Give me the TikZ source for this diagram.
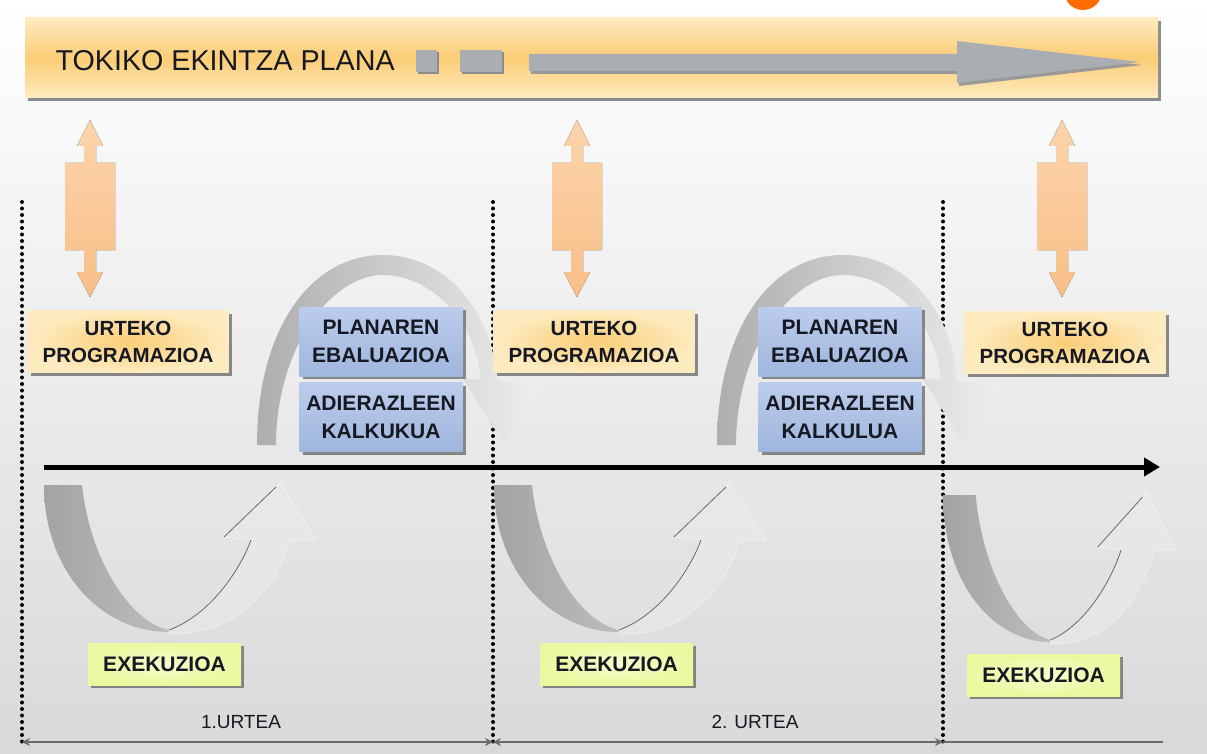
\documentclass[tikz,border=0pt]{standalone}
\usepackage{fontspec}
\setmainfont{Liberation Sans}
\usetikzlibrary{shadows,arrows.meta}

\definecolor{bandorange}{RGB}{251,205,118}
\definecolor{bandpale}{RGB}{253,235,192}
\definecolor{peach}{RGB}{249,190,135}
\definecolor{peachlight}{RGB}{252,212,172}
\definecolor{evalblue}{RGB}{160,182,222}
\definecolor{evalbluelight}{RGB}{188,204,236}
\definecolor{exeyellow}{RGB}{234,249,160}
\definecolor{exepale}{RGB}{246,253,205}
\definecolor{planarrow}{RGB}{170,174,179}
\definecolor{textdark}{RGB}{22,24,34}

\begin{document}
\begin{tikzpicture}[x=1pt,y=-1pt,
  boxshadow/.style={drop shadow={shadow xshift=3pt,shadow yshift=-3pt,fill=black!60,opacity=0.75}},
  urtbox/.style={boxshadow,inner color=bandorange,outer color=bandpale,minimum width=201pt,minimum height=62pt,
    align=center,inner sep=0pt,font=\bfseries\fontsize{20.5}{27}\selectfont,text=textdark},
  evalbox/.style={boxshadow,top color=evalbluelight,bottom color=evalblue,minimum width=163pt,minimum height=69pt,
    align=center,inner sep=0pt,font=\bfseries\fontsize{21}{28}\selectfont,text=textdark},
  exebox/.style={boxshadow,inner color=exepale,outer color=exeyellow,minimum width=153pt,minimum height=42pt,
    inner sep=0pt,font=\bfseries\fontsize{21}{24}\selectfont,text=textdark},
  yeardots/.style={line width=4pt,line cap=round,dash pattern=on 0pt off 6.5pt},
  axisline/.style={line width=2.4pt,black!58,{Stealth[length=8pt,width=8pt]}-{Stealth[length=8pt,width=8pt]}},
  yearlabel/.style={font=\fontsize{19}{22}\selectfont,text=textdark}]
  \useasboundingbox (0,0) rectangle (1207,754);
  \shade[top color=white,bottom color=black!15] (0,0) rectangle (1207,754);
  \fill[orange!85!red] (1083,-9) circle (19);
  % plan banner
  \node[boxshadow,top color=bandpale,bottom color=bandpale,middle color=bandorange,
    minimum width=1133pt,minimum height=80pt,inner sep=0pt] (plan) at (591.5,58) {};
  \node[anchor=west,font=\fontsize{28.7}{30}\selectfont,text=textdark] (title) at (52,61) {TOKIKO EKINTZA PLANA};
  \fill[black!45] (418,52) rectangle (439,74);
  \fill[planarrow] (416,50) rectangle (437,72);
  \fill[black!45] (462,52) rectangle (504,74);
  \fill[planarrow] (460,50) rectangle (502,72);
  \fill[black!40] (531,57) -- (959,57) -- (959,44) -- (1142,65) -- (959,86) -- (959,74) -- (531,74) -- cycle;
  \fill[planarrow] (529,54) -- (957,54) -- (957,41) -- (1140,62) -- (957,83) -- (957,71) -- (529,71) -- cycle;
  % year separators
  \coordinate (d1top) at (22,202);
  \coordinate (d1bot) at (22,742);
  \coordinate (d2top) at (493,202);
  \coordinate (d2bot) at (493,742);
  \coordinate (d3top) at (943,202);
  \coordinate (d3bot) at (943,742);
  \coordinate (axend) at (1163,742);
  \draw[yeardots] (d1top) -- (d1bot);
  \draw[yeardots] (d2top) -- (d2bot);
  \draw[yeardots] (d3top) -- (d3bot);
  % plan <-> programazioa
  \foreach \cx in {90,577,1062}
    \fill[top color=peachlight,bottom color=peach]
      (\cx,120) -- (\cx+13,146) -- (\cx+6,146) -- (\cx+6,163) -- (\cx+25,163) -- (\cx+25,250)
      -- (\cx+6,250) -- (\cx+6,272) -- (\cx+13,272) -- (\cx,297) -- (\cx-13,272) -- (\cx-6,272)
      -- (\cx-6,250) -- (\cx-25,250) -- (\cx-25,163) -- (\cx-6,163) -- (\cx-6,146) -- (\cx-13,146) -- cycle;
  % evaluation arches
  \foreach \dx in {0,460} {
    \begin{scope}[shift={(\dx,0)}]
      \shade[left color=black!32,right color=black!7]
        (257,445) .. controls (257,330) and (310,255) .. (383,255)
        .. controls (445,255) and (492,310) .. (497,380) -- (538,388) -- (505,445) -- (462,378) -- (481,380)
        .. controls (476,320) and (430,275) .. (383,275)
        .. controls (330,275) and (276,350) .. (276,445) -- cycle;
    \end{scope}
  }
  \node[urtbox] (urt1) at (128,341.5) {URTEKO\\PROGRAMAZIOA};
  \node[urtbox] (urt2) at (594,341.5) {URTEKO\\PROGRAMAZIOA};
  \node[urtbox] (urt3) at (1065,342.5) {URTEKO\\PROGRAMAZIOA};
  \node[evalbox] (plan1) at (381,341.5) {PLANAREN\\EBALUAZIOA};
  \node[evalbox] (kalk1) at (381,417) {ADIERAZLEEN\\KALKUKUA};
  \node[evalbox] (plan2) at (840,341.5) {PLANAREN\\EBALUAZIOA};
  \node[evalbox] (kalk2) at (840,417) {ADIERAZLEEN\\KALKULUA};
  % time line
  \coordinate (tstart) at (44,467);
  \coordinate (tend) at (1160,467);
  \draw[line width=5pt,-{Triangle[length=16pt,width=18pt]}] (tstart) -- (tend);
  % execution turns
  \foreach \dx/\dy/\sx in {44/485/1,494/485/1,943/495/0.86} {
    \begin{scope}[shift={(\dx,\dy)},xscale=\sx]
      \shade[left color=black!36,right color=black!26]
        (0,0) -- (38,0) .. controls (46,75) and (86,137) .. (125,145)
        -- (125,147) .. controls (56,147) and (0,85) .. (0,0) -- cycle;
      \fill[black!8,opacity=0.55,draw=white,line width=0.6pt]
        (125,145) .. controls (166,130) and (196,85) .. (207,55) -- (180,52) -- (236,-2)
        -- (272,55) -- (246,55) .. controls (225,120) and (180,150) .. (125,149) -- cycle;
      \draw[black!60,line width=0.8pt] (125,145) .. controls (166,130) and (196,85) .. (207,55);
      \draw[black!60,line width=0.8pt] (180,52) -- (232,2);
    \end{scope}
  }
  \node[exebox] (exe1) at (164.5,664) {EXEKUZIOA};
  \node[exebox] (exe2) at (616.5,664) {EXEKUZIOA};
  \node[exebox] (exe3) at (1043.5,675) {EXEKUZIOA};
  % years
  \draw[axisline] (d1bot) -- (d2bot);
  \draw[axisline] (d2bot) -- (d3bot);
  \draw[axisline,-] (d3bot) -- (axend);
  \node[yearlabel] (year1) at (241,722) {1.URTEA};
  \node[yearlabel] (year2) at (755,722) {2. URTEA};
\end{tikzpicture}
\end{document}
